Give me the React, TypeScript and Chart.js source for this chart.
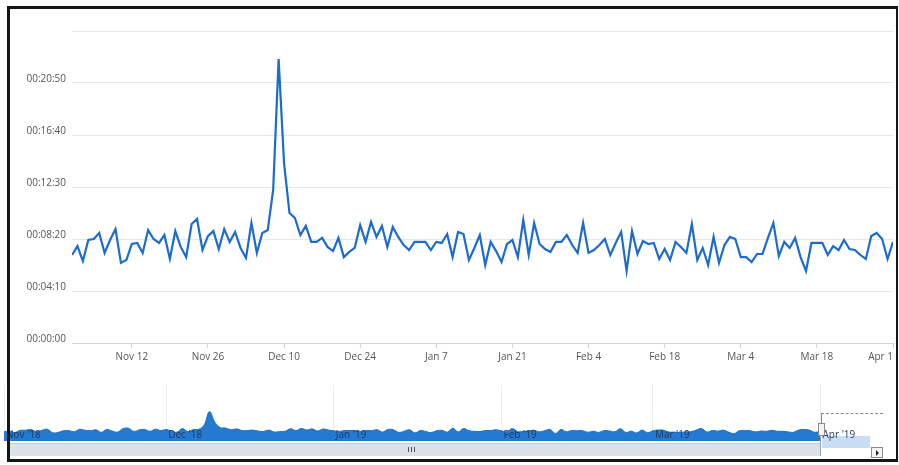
import React, { useEffect, useRef } from 'react';
import { Chart, registerables } from 'chart.js';

Chart.register(...registerables);

// Daily average session duration (seconds), Nov 1 2018 .. Apr 1 2019
const novValues = [423, 466, 394, 495, 500, 529, 433, 495, 548, 385, 399, 476, 481, 433, 543, 500, 481, 519, 404, 538, 462, 413, 572, 596, 447, 514, 538, 452, 548, 486];
const decValues = [534, 457, 409, 577, 433, 529, 543, 736, 1365, 865, 625, 601, 519, 563, 486, 486, 505, 462, 442, 505, 413, 438, 457, 567, 486, 582, 510, 563, 462, 558, 510];
const janValues = [471, 447, 486, 486, 486, 447, 486, 481, 524, 413, 534, 524, 399, 457, 519, 375, 486, 442, 389, 476, 495, 413, 591, 423, 577, 476, 452, 438, 486, 486, 519];
const febValues = [471, 433, 577, 433, 447, 471, 500, 423, 481, 534, 346, 538, 428, 490, 476, 481, 404, 452, 399, 486, 462, 433, 572, 399, 457, 375, 510, 385];
const marValues = [471, 510, 500, 413, 413, 389, 428, 428, 505, 577, 418, 486, 457, 505, 413, 346, 481, 481, 481, 423, 466, 447, 495, 452, 447, 423, 404, 514, 529, 500, 404];
const aprValues = [486];

const dailyValues = [...novValues, ...decValues, ...janValues, ...febValues, ...marValues, ...aprValues];

// Main x axis ticks (day index from Nov 1)
const axisTickDays = [0, 11, 25, 39, 53, 67, 81, 95, 109, 123, 137, 151];
const axisTickLabels = ['', 'Nov 12', 'Nov 26', 'Dec 10', 'Dec 24', 'Jan 7', 'Jan 21', 'Feb 4', 'Feb 18', 'Mar 4', 'Mar 18', 'Apr 1'];

// Y axis (seconds)
const yMin = 0;
const yMax = 1500;
const yStep = 250;

// Navigator ticks
const navTickDays = [0, 30, 61, 92, 120, 151];
const navTickLabels = ["Nov '18", "Dec '18", "Jan '19", "Feb '19", "Mar '19", "Apr '19"];

const FONT = '"Open Sans", "Liberation Sans", Arial, sans-serif';

function fmtDuration(v: number): string {
  const h = Math.floor(v / 3600);
  const m = Math.floor((v % 3600) / 60);
  const s = Math.floor(v % 60);
  const p = (n: number) => (n < 10 ? '0' + n : '' + n);
  return `${p(h)}:${p(m)}:${p(s)}`;
}

export default function App() {
  const mainRef = useRef<HTMLCanvasElement | null>(null);
  const navRef = useRef<HTMLCanvasElement | null>(null);

  useEffect(() => {
    if (!mainRef.current || !navRef.current) return;
    const points = dailyValues.map((v, i) => ({ x: i, y: v }));

    const main = new Chart(mainRef.current, {
      type: 'line',
      data: {
        datasets: [
          {
            data: points,
            borderColor: '#1d6bcc',
            borderWidth: 2.2,
            pointRadius: 0,
            tension: 0,
            fill: false,
          },
        ],
      },
      options: {
        animation: false,
        responsive: false,
        maintainAspectRatio: false,
        layout: { padding: { left: 0, right: 6, top: 31, bottom: 7 } },
        plugins: { legend: { display: false }, tooltip: { enabled: false } },
        scales: {
          x: {
            type: 'linear',
            min: 0,
            max: 151,
            afterBuildTicks: (s: any) => {
              s.ticks = axisTickDays.map((v) => ({ value: v }));
            },
            afterFit: (s: any) => {
              s.height = 30;
            },
            border: { display: true, color: '#ccd6eb', width: 1 },
            grid: {
              display: true,
              drawOnChartArea: false,
              drawTicks: true,
              tickLength: 5,
              tickColor: (ctx: any) => (ctx.index === 0 ? 'rgba(0,0,0,0)' : '#ccd6eb'),
            },
            ticks: {
              autoSkip: false,
              maxRotation: 0,
              align: 'inner',
              padding: 3,
              color: '#555',
              font: { family: FONT, size: 10 },
              callback: (value: any) => {
                const i = axisTickDays.indexOf(Number(value));
                return i >= 0 ? axisTickLabels[i] : '';
              },
            },
          },
          y: {
            min: yMin,
            max: yMax,
            afterFit: (s: any) => {
              s.width = 72;
            },
            border: { display: false },
            grid: { color: '#e4e9f1', drawTicks: false },
            ticks: {
              stepSize: yStep,
              padding: 6,
              labelOffset: -4,
              color: '#555',
              font: { family: FONT, size: 10 },
              callback: (v: any) => (Number(v) === yMax ? '' : fmtDuration(Number(v))),
            },
          },
        },
      },
    } as any);

    const nav = new Chart(navRef.current, {
      type: 'line',
      data: {
        datasets: [
          {
            data: points,
            borderColor: '#1f6fc8',
            borderWidth: 1,
            backgroundColor: '#2479d0',
            fill: 'origin',
            pointRadius: 0,
            tension: 0.4,
          },
        ],
      },
      options: {
        animation: false,
        responsive: false,
        maintainAspectRatio: false,
        layout: { padding: { left: 4, right: 19, top: 5, bottom: 24 } },
        plugins: { legend: { display: false }, tooltip: { enabled: false } },
        scales: {
          x: {
            type: 'linear',
            min: 0,
            max: 162,
            afterBuildTicks: (s: any) => {
              s.ticks = navTickDays.map((v) => ({ value: v }));
            },
            afterFit: (s: any) => {
              s.height = 0;
              s.paddingLeft = 0;
              s.paddingRight = 0;
            },
            border: { display: false },
            grid: { display: true, drawTicks: false, color: 'rgba(0,0,0,0.07)' },
            ticks: {
              z: 1,
              mirror: true,
              autoSkip: false,
              maxRotation: 0,
              align: 'start',
              padding: 0,
              labelOffset: 2,
              color: '#1e3a62',
              font: { family: FONT, size: 10 },
              callback: (value: any) => {
                const i = navTickDays.indexOf(Number(value));
                return i >= 0 ? navTickLabels[i] : '';
              },
            },
          },
          y: { display: false, min: 0, max: 2600 },
        },
      },
    } as any);

    return () => {
      main.destroy();
      nav.destroy();
    };
  }, []);

  const abs = (s: React.CSSProperties): React.CSSProperties => ({ position: 'absolute', ...s });

  return (
    <div style={abs({ left: 0, top: 0, width: 899, height: 465, background: '#fff', overflow: 'hidden' })}>
      <canvas ref={mainRef} width={899} height={380} style={abs({ left: 0, top: 0, width: 899, height: 380 })} />
      {/* navigator selection highlight behind label */}
      <div style={abs({ left: 822, top: 436, width: 48, height: 12, background: '#c9def4' })} />
      <canvas ref={navRef} width={899} height={85} style={abs({ left: 0, top: 380, width: 899, height: 85 })} />
      {/* scrollbar */}
      <div style={abs({ left: 8, top: 443, width: 812, height: 13, background: '#dde2ea', borderTop: '1px solid #c5ccd8', boxSizing: 'border-box' })} />
      <div style={abs({ left: 820, top: 437, width: 0, height: 19, borderLeft: '1px solid #9aa3b0' })} />
      <div style={abs({ left: 408, top: 447, width: 1, height: 5, background: '#555' })} />
      <div style={abs({ left: 411, top: 447, width: 1, height: 5, background: '#555' })} />
      <div style={abs({ left: 414, top: 447, width: 1, height: 5, background: '#555' })} />
      {/* scroll button */}
      <div style={abs({ left: 871, top: 447, width: 12, height: 11, border: '1px solid #8a8a8a', background: '#f4f4f4', boxSizing: 'border-box' })}>
        <div style={abs({ left: 4, top: 2, width: 0, height: 0, borderTop: '3px solid transparent', borderBottom: '3px solid transparent', borderLeft: '3px solid #222' })} />
      </div>
      {/* navigator outline and handle */}
      <div style={abs({ left: 821, top: 413, width: 62, height: 0, borderTop: '1px dashed #888' })} />
      <div style={abs({ left: 821, top: 413, width: 0, height: 11, borderLeft: '1px solid #888' })} />
      <div style={abs({ left: 818, top: 423, width: 7, height: 13, background: '#f4f4f4', border: '1px solid #8a8a8a', boxSizing: 'border-box' })} />
      {/* photo frame */}
      <div
        style={abs({
          left: 7,
          top: 6,
          width: 891,
          height: 456,
          borderTop: '3px solid #161616',
          borderLeft: '3px solid #161616',
          borderRight: '2px solid #161616',
          borderBottom: '3px solid #161616',
          boxSizing: 'border-box',
          pointerEvents: 'none',
        })}
      />
    </div>
  );
}
